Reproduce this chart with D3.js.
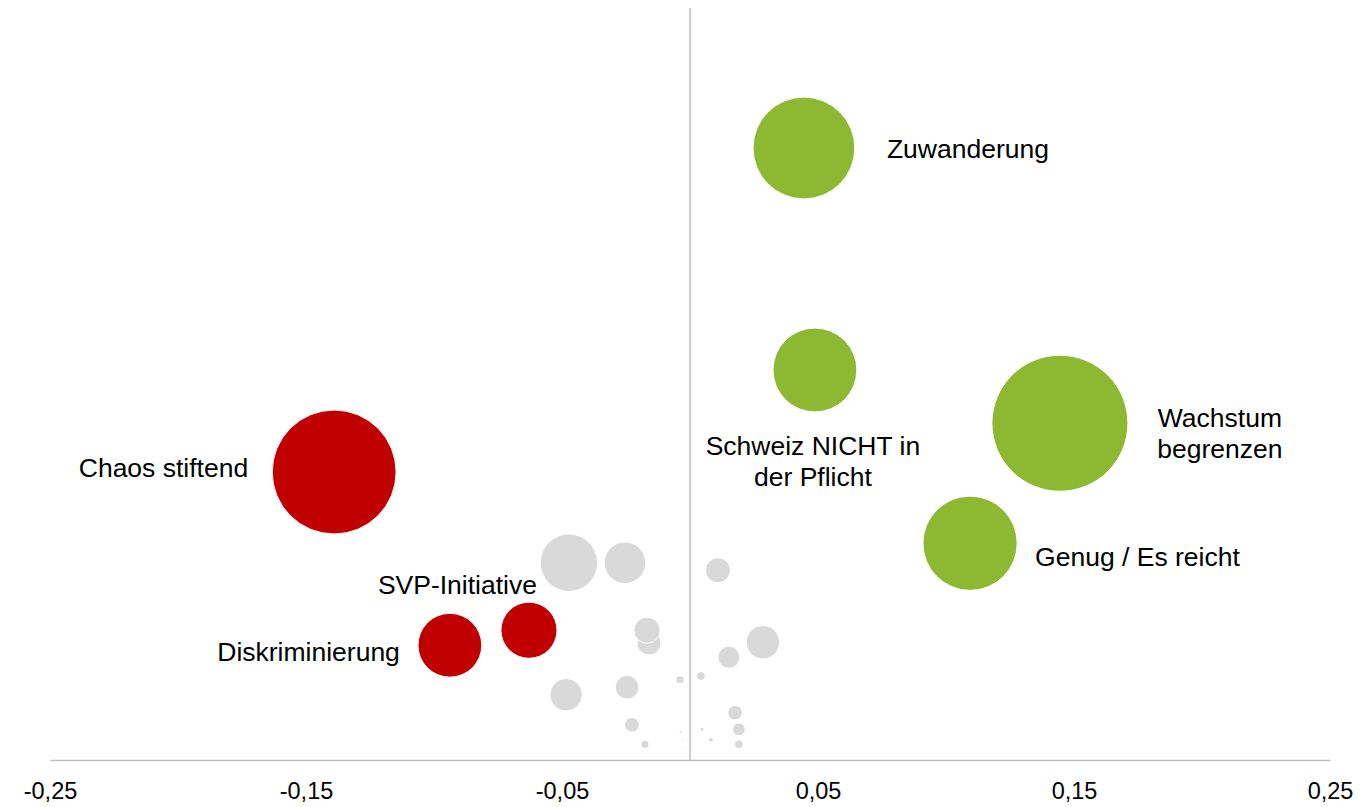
<!DOCTYPE html>
<html><head><meta charset="utf-8">
<script src="https://cdn.jsdelivr.net/npm/d3@7/dist/d3.min.js"></script>
<style>
html,body{margin:0;padding:0;background:#fff;}
text{font-family:"Liberation Sans",Arial,sans-serif;fill:#000;}
</style></head>
<body>
<svg id="chart" width="1363" height="807"></svg>
<script>
// ---- data ----
const labels  = ["Zuwanderung","Schweiz NICHT in der Pflicht","Wachstum begrenzen","Genug / Es reicht","Chaos stiftend","SVP-Initiative","Diskriminierung"];
const xVals   = [0.0445, 0.0488, 0.1445, 0.1094, -0.139, -0.0629, -0.0938];
const yVals   = [81.6, 52.0, 44.9, 28.9, 38.4, 17.3, 15.3];
const sizes   = [56, 38, 100, 48, 83, 17, 22];
const groups  = ["pos","pos","pos","pos","neg","neg","neg"];

const greyX    = [-0.0473,-0.0254,0.0109,-0.016,-0.0168,0.0285,0.0152,-0.0039,0.0043,-0.0484,-0.0246,-0.0227,-0.0176,-0.0035,-0.0027,-0.0027,0.0047,0.0082,0.0176,0.0191,0.0191];
const greyY    = [26.3,26.3,25.3,15.6,17.3,15.7,13.7,10.7,11.2,8.7,9.7,4.7,2.1,3.7,2.7,1.7,4.1,2.7,6.3,4.1,2.1];
const greySize = [17.8,9.3,3.4,3.1,3.7,6.0,2.6,0.35,0.4,5.7,3.0,1.15,0.35,0.05,0.02,0.02,0.09,0.14,1.15,0.86,0.4];

const xTicks = [-0.25,-0.15,-0.05,0.05,0.15,0.25];

// ---- drawing ----
const svg = d3.select("#chart");
const x = d3.scaleLinear().domain([-0.25,0.25]).range([50,1330]);
const y = d3.scaleLinear().domain([0,100]).range([760,10]);
const r = d3.scaleSqrt().domain([0,100]).range([0,68]);
const colors = {pos:"#8DB832", neg:"#C00000"};

// axis
const xAxis = d3.axisBottom(x).tickValues(xTicks).tickSize(0).tickPadding(22)
  .tickFormat(d => d3.format(".2f")(d).replace("−","-").replace(".",","));
const gx = svg.append("g").attr("transform",`translate(0,${y(0)})`).call(xAxis);
gx.select(".domain").attr("stroke","#BFBFBF").attr("stroke-width",1.5);
gx.selectAll("text").attr("font-size",23.5).attr("font-family","Liberation Sans, Arial, sans-serif").attr("fill","#000");

// vertical zero line
svg.append("line").attr("x1",x(0)).attr("x2",x(0)).attr("y1",8).attr("y2",y(0))
  .attr("stroke","#BFBFBF").attr("stroke-width",1.5);

// grey bubbles
const grey = greyX.map((v,i)=>({x:v,y:greyY[i],s:greySize[i]}));
svg.append("g").selectAll("circle").data(grey).join("circle")
  .attr("cx",d=>x(d.x)).attr("cy",d=>y(d.y)).attr("r",d=>r(d.s))
  .attr("fill","#D9D9D9").attr("stroke","#fff").attr("stroke-width",1);

// main bubbles
const main = labels.map((l,i)=>({label:l,x:xVals[i],y:yVals[i],s:sizes[i],g:groups[i]}));
svg.append("g").selectAll("circle").data(main).join("circle")
  .attr("cx",d=>x(d.x)).attr("cy",d=>y(d.y)).attr("r",d=>r(d.s))
  .attr("fill",d=>colors[d.g]).attr("stroke","#fff").attr("stroke-width",1);

// labels (placement offsets relative to bubbles)
const place = {
  "Zuwanderung": {dx:83, dy:10, anchor:"start", lines:["Zuwanderung"]},
  "Schweiz NICHT in der Pflicht": {dx:-2, dy:85, anchor:"middle", lines:["Schweiz NICHT in","der Pflicht"]},
  "Wachstum begrenzen": {dx:160, dy:4, anchor:"middle", lines:["Wachstum","begrenzen"]},
  "Genug / Es reicht": {dx:65, dy:23, anchor:"start", lines:["Genug / Es reicht"]},
  "Chaos stiftend": {dx:-86, dy:5, anchor:"end", lines:["Chaos stiftend"]},
  "SVP-Initiative": {dx:8, dy:-36, anchor:"end", lines:["SVP-Initiative"]},
  "Diskriminierung": {dx:-50, dy:16, anchor:"end", lines:["Diskriminierung"]}
};
const lg = svg.append("g");
main.forEach(d=>{
  const p = place[d.label];
  const t = lg.append("text").attr("x",x(d.x)+p.dx).attr("y",y(d.y)+p.dy)
    .attr("text-anchor",p.anchor).attr("font-size",26.5);
  p.lines.forEach((ln,i)=>{
    t.append("tspan").attr("x",x(d.x)+p.dx).attr("dy",i===0?0:31).text(ln);
  });
});
</script>
</body></html>
